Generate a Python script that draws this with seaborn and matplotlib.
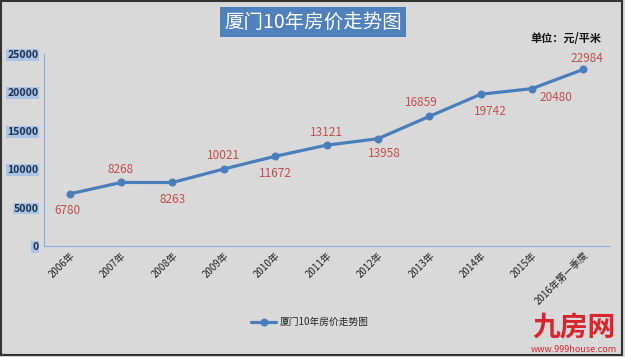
import matplotlib
matplotlib.use("Agg")
import matplotlib.pyplot as plt
import seaborn as sns
import pandas as pd
from matplotlib.patches import Rectangle

years = ["2006年", "2007年", "2008年", "2009年", "2010年", "2011年", "2012年",
         "2013年", "2014年", "2015年", "2016年第一季度"]
prices = [6780, 8268, 8263, 10021, 11672, 13121, 13958, 16859, 19742, 20480, 22984]
yticks = [0, 5000, 10000, 15000, 20000, 25000]
series_name = "厦门10年房价走势图"

sns.set_theme(style="white")
plt.rcParams['font.family'] = ['Noto Sans CJK SC', 'DejaVu Sans']

bg = "#d9d9d9"
fig = plt.figure(figsize=(6.25, 3.57), dpi=100, facecolor=bg)
ax = fig.add_axes([0.0704, 0.311, 0.904, 0.538])
ax.set_facecolor(bg)

df = pd.DataFrame({"year": years, "price": prices})
line_color = "#4a7ebb"
sns.lineplot(data=df, x="year", y="price", sort=False, ax=ax, color=line_color,
             linewidth=2.3, marker="o", markersize=5, markeredgecolor=line_color,
             label=series_name)

ax.set_xlim(-0.5, len(years) - 0.5)
ax.set_ylim(0, 25000)
ax.set_yticks(yticks)
ax.set_yticklabels([str(v) for v in yticks], fontsize=7.5, color="#1f2f4f", fontweight="semibold")
for t in ax.get_yticklabels():
    t.set_bbox(dict(facecolor="#a9c4e4", edgecolor="none", pad=0.6))
ax.tick_params(axis="y", pad=4, length=0)
ax.set_xticks(range(len(years)))
ax.set_xticklabels(years, rotation=45, ha="right", rotation_mode="anchor", fontsize=7, color="#222222")
ax.tick_params(axis="x", pad=3, length=0)
ax.set_xlabel("")
ax.set_ylabel("")

for s in ["top", "right"]:
    ax.spines[s].set_visible(False)
for s in ["left", "bottom"]:
    ax.spines[s].set_color("#8eaadb")
    ax.spines[s].set_linewidth(0.8)

# data label offsets in pixels (dx, dy)
offsets = [(-2, -17), (0, 13), (0, -17), (0, 13), (0, -17), (0, 13), (6, -15),
           (-8, 14), (10, -17), (24, -9), (4, 11)]
for i, (v, (dx, dy)) in enumerate(zip(prices, offsets)):
    ax.annotate(str(v), (i, v), xytext=(dx, dy), textcoords="offset pixels",
                ha="center", va="center", fontsize=8.5, color="#c0504d")

leg = ax.legend(loc="center", bbox_to_anchor=(310 / 625, 1 - 322 / 357),
                bbox_transform=fig.transFigure, frameon=False, fontsize=7,
                handlelength=2.5, handletextpad=0.4)

fig.text(0.5008, 1 - 22 / 357, series_name, ha="center", va="center", fontsize=14,
         color="white", bbox=dict(facecolor="#4f81bd", edgecolor="none", pad=3))
fig.text(0.905, 1 - 38 / 357, "单位：元/平米", ha="center", va="center", fontsize=8,
         fontweight="bold", color="#111111")

fig.text(0.918, 1 - 328 / 357, "九房网", ha="center", va="center", fontsize=20,
         color="#d9262c", fontweight="bold")
fig.text(0.918, 1 - 349 / 357, "www.999house.com", ha="center", va="center", fontsize=6.5,
         color="#d9262c")

fig.patches.append(Rectangle((0.002, 0.006), 0.993, 0.99, transform=fig.transFigure,
                             fill=False, edgecolor="#333333", linewidth=1.5))

fig.savefig("out.png", dpi=100, facecolor=bg)
